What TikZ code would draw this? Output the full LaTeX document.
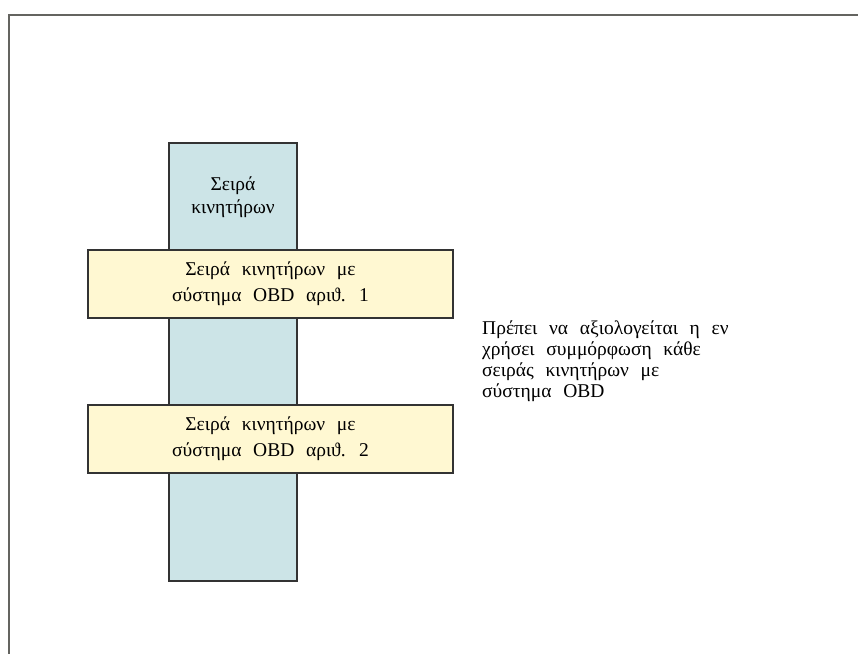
\documentclass[tikz,border=0pt]{standalone}
\usepackage{fontspec}
\setmainfont[WordSpace=2.4]{Liberation Serif}
\usetikzlibrary{positioning}

\definecolor{barblue}{RGB}{204,228,231}
\definecolor{boxyellow}{RGB}{255,248,210}
\definecolor{framegrey}{RGB}{100,100,96}

\begin{document}
\begin{tikzpicture}[x=1pt, y=-1pt,
		bar/.style = {draw=black!80, line width=1.2pt, fill=barblue, minimum width=128pt, minimum height=438pt, inner sep=0pt},
		obd/.style = {draw=black!80, line width=1.2pt, fill=boxyellow, minimum width=365pt, minimum height=68pt, align=center, inner sep=0pt, font=\fontsize{19.5}{26}\selectfont},
		txt/.style = {inner sep=0pt, font=\fontsize{19.5}{21}\selectfont}]
	\useasboundingbox (0,0) rectangle (858,653);
	\draw[framegrey, line width=2pt] (9,665) -- (9,15) -- (870,15);

	\node[bar] (bar) at (233,362) {};
	\node[txt, align=center, font=\fontsize{19.5}{23}\selectfont] (bartitle) at (233,197) {Σειρά\\κινητήρων};
	\node[obd] (obd1) at (270.5,284) {Σειρά κινητήρων με\\σύστημα OBD αριϑ. 1};
	\node[obd] (obd2) at (270.5,439) {Σειρά κινητήρων με\\σύστημα OBD αριϑ. 2};

	\node[txt, align=left, anchor=north west] (note) at (482,321) {Πρέπει να αξιολογείται η εν\\χρήσει συμμόρφωση κάθε\\σειράς κινητήρων με\\σύστημα OBD};
\end{tikzpicture}
\end{document}
